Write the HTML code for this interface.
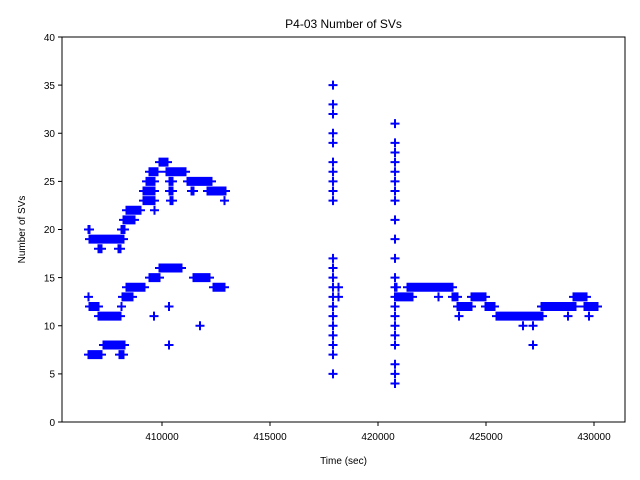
<!DOCTYPE html>
<html><head><meta charset="utf-8"><style>
html,body{margin:0;padding:0;background:#fff;}
svg{display:block;font-family:"Liberation Sans","DejaVu Sans",sans-serif;}
</style></head><body>
<svg id="s" width="640" height="480" xmlns="http://www.w3.org/2000/svg">
<rect width="640" height="480" fill="#fff"/>
<g id="m" stroke="#0000ff" stroke-width="2" fill="none"></g>
<rect x="62" y="37" width="563" height="385" fill="none" stroke="#000" stroke-width="1"/>
<g stroke="#000" stroke-width="1">
<line x1="162" y1="422" x2="162" y2="426"/><line x1="270" y1="422" x2="270" y2="426"/><line x1="378" y1="422" x2="378" y2="426"/><line x1="486" y1="422" x2="486" y2="426"/><line x1="594" y1="422" x2="594" y2="426"/>
<line x1="58" y1="422" x2="62" y2="422"/><line x1="58" y1="373.9" x2="62" y2="373.9"/><line x1="58" y1="325.75" x2="62" y2="325.75"/><line x1="58" y1="277.6" x2="62" y2="277.6"/><line x1="58" y1="229.5" x2="62" y2="229.5"/><line x1="58" y1="181.4" x2="62" y2="181.4"/><line x1="58" y1="133.25" x2="62" y2="133.25"/><line x1="58" y1="85.1" x2="62" y2="85.1"/><line x1="58" y1="37" x2="62" y2="37"/>
</g>
<g font-size="10" fill="#000" text-anchor="middle">
<text x="162" y="440">410000</text><text x="270" y="440">415000</text><text x="378" y="440">420000</text><text x="486" y="440">425000</text><text x="594" y="440">430000</text>
</g>
<g font-size="10" fill="#000" text-anchor="end">
<text x="55" y="426">0</text><text x="55" y="377.5">5</text><text x="55" y="329.5">10</text><text x="55" y="281.5">15</text><text x="55" y="233">20</text><text x="55" y="185">25</text><text x="55" y="137">30</text><text x="55" y="89">35</text><text x="55" y="41">40</text>
</g>
<text x="343.5" y="464" font-size="10" text-anchor="middle">Time (sec)</text>
<text x="25" y="229.5" font-size="10" text-anchor="middle" transform="rotate(-90 25 229.5)">Number of SVs</text>
<text x="343.5" y="28" font-size="12" text-anchor="middle">P4-03 Number of SVs</text>
</svg>
<script>
// extents include marker half-width (~4.5)
var R=[[27,155,172],[26,145,162],[26,162,190],[25,142,159],[25,165,177],[25,183,216],[24,139,159],[24,165,177],[24,187,198],[24,203,230],[23,139,159],[23,166,177],[23,220,229],[22,122,145],[22,150,159],[21,119,139],[20,84,94],[20,117,129],[19,85,128],[18,94,106],[18,114,125],
[16,155,186],[15,145,164],[15,189,214],[14,122,149],[14,209,229],[13,84,93],[13,118,137],[12,85,103],[12,117,126],[12,165,173],[11,94,125],[11,150,158],[10,196,204],[8,99,129],[8,165,173],[7,84,106],[7,115,128],
[14,395,398],[14,403,457],[13,392,417],[13,435,442],[13,448,462],[13,467,490],[13,569,591],[12,453,476],[12,481,499],[12,537,580],[12,580,602],[11,455,463],[11,492,547],[11,564,572],[11,585,593],[10,519,527],[10,529,537],[8,529,537],[13,334,343],[14,335,342]];
var runs=[];
R.forEach(function(r){var a=r[1]+4.5,b=r[2]-4.5;if(b<a){a=b=(r[1]+r[2])/2;}runs.push([r[0],a,b]);});
[35,33,32,30,29,27,26,25,24,23,17,16,15,14,13,12,11,10,9,8,7,5].forEach(function(v){runs.push([v,333,333]);});
[31,29,28,27,26,25,24,23,21,19,17,15,14,13,12,11,10,9,8,6,5,4].forEach(function(v){runs.push([v,395,395]);});
var d="";
runs.forEach(function(r){var y=422-9.625*r[0];var x=r[1];while(true){d+="M"+(x-4.5)+" "+y+"h9M"+x+" "+(y-4.5)+"v9";if(x>=r[2])break;x=Math.min(x+2,r[2]);}});
var p=document.createElementNS("http://www.w3.org/2000/svg","path");p.setAttribute("d",d);document.getElementById("m").appendChild(p);
</script>
</body></html>
